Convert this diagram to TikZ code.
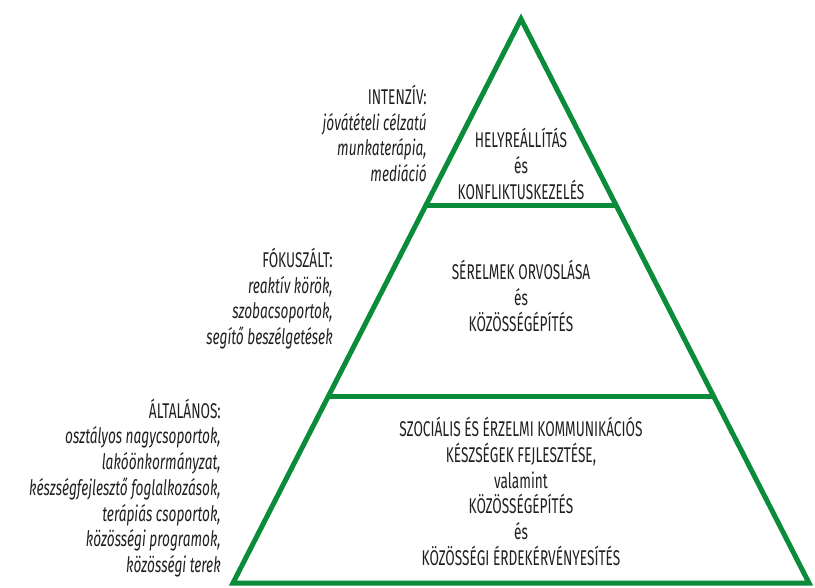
\documentclass[tikz,border=0pt]{standalone}
\usepackage{fontspec}
\setmainfont{Fira Sans}[FakeStretch=0.64]
\usetikzlibrary{calc}
\definecolor{pyrgreen}{RGB}{10,140,58}
\definecolor{inkgray}{RGB}{35,31,32}

\begin{document}
\begin{tikzpicture}[
            x=0.75pt, y=-0.75pt,
            edge/.style={
                draw=pyrgreen,
                line width=3.75pt,
                line join=miter
            },
            level/.style={
                align=center,
                inner sep=0pt,
                text=inkgray,
                font=\fontsize{16}{19.3}\selectfont
            },
            side/.style={
                anchor=east,
                align=right,
                inner sep=0pt,
                text=inkgray,
                font=\fontsize{16}{19.3}\selectfont
            }
        ]
        \useasboundingbox (0,0) rectangle (815,588);
        \coordinate (top) at (521,19);
        \coordinate (bl) at (233,583);
        \coordinate (br) at (809,583);
        \draw[edge] (top) -- (br) -- (bl) -- cycle;
        \draw[edge] ($(top)!0.33!(bl)$) -- ($(top)!0.33!(br)$);
        \draw[edge] ($(top)!0.67!(bl)$) -- ($(top)!0.67!(br)$);
        % levels
        \node[level] (restore) at (521,164) {HELYREÁLLÍTÁS\\és\\KONFLIKTUSKEZELÉS};
        \node[level] (repair) at (521,296) {SÉRELMEK ORVOSLÁSA\\és\\KÖZÖSSÉGÉPÍTÉS};
        \node[level] (skills) at (521,491.5) {SZOCIÁLIS ÉS ÉRZELMI KOMMUNIKÁCIÓS\\KÉSZSÉGEK FEJLESZTÉSE,\\valamint\\KÖZÖSSÉGÉPÍTÉS\\és\\KÖZÖSSÉGI ÉRDEKÉRVÉNYESÍTÉS};
        % side labels
        \node[side] (intensive) at (427,133.5) {INTENZÍV:\\\textit{jóvátételi célzatú}\\\textit{munkaterápia,}\\\textit{mediáció}};
        \node[side] (focused) at (333,298.5) {FÓKUSZÁLT:\\\textit{reaktív körök,}\\\textit{szobacsoportok,}\\\textit{segítő beszélgetések}};
        \node[side] (general) at (221,488) {ÁLTALÁNOS:\\\textit{osztályos nagycsoportok,}\\\textit{lakóönkormányzat,}\\\textit{készségfejlesztő foglalkozások,}\\\textit{terápiás csoportok,}\\\textit{közösségi programok,}\\\textit{közösségi terek}};
\end{tikzpicture}
\end{document}
